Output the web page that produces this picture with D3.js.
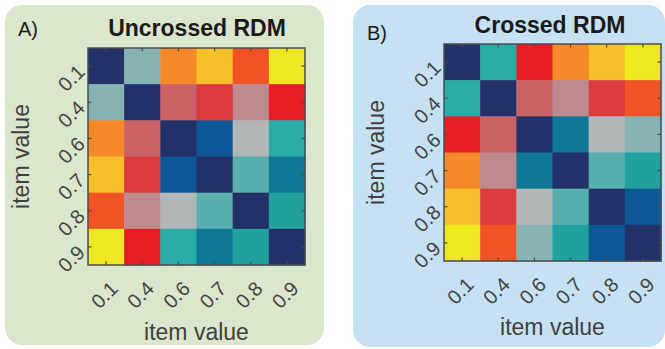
<!DOCTYPE html>
<html>
<head>
<meta charset="utf-8">
<script src="https://cdn.jsdelivr.net/npm/d3@7"></script>
<style>
  body { margin: 0; background: #fff; }
  svg { display: block; font-family: "Liberation Sans", Arial, sans-serif; }
</style>
</head>
<body>
<div id="chart"></div>
<script>
// item values on both axes
const items = ["0.1", "0.4", "0.6", "0.7", "0.8", "0.9"];

// dissimilarity rank -> colour (low = dark blue, high = yellow)
const palette = [
  "#233169", "#0c5796", "#0f7897", "#22a09f", "#2aaca8", "#57b0ad",
  "#87b3b5", "#b3b6b6", "#bf8a8d", "#cb6366", "#db3b3e", "#e81e26",
  "#f15326", "#f5892a", "#f7c02b", "#ede821"
];

// dissimilarity ranks
const uncrossed = [
  [0, 6, 13, 14, 12, 15],
  [6, 0, 9, 10, 8, 11],
  [13, 9, 0, 1, 7, 4],
  [14, 10, 1, 0, 5, 2],
  [12, 8, 7, 5, 0, 3],
  [15, 11, 4, 2, 3, 0]
];
const crossed = [
  [0, 4, 11, 13, 14, 15],
  [4, 0, 9, 8, 10, 12],
  [11, 9, 0, 2, 7, 6],
  [13, 8, 2, 0, 5, 3],
  [14, 10, 7, 5, 0, 1],
  [15, 12, 6, 3, 1, 0]
];

const panels = [
  { letter: "A)", title: "Uncrossed RDM", matrix: uncrossed, bg: "#dae7cd",
    box: { x: 5, y: 5, w: 319, h: 340 }, mx: 88, my: 48, size: 217,
    letterPos: [18, 36], titleX: 197, titleY: 36, ylabX: 29, xlabY: 340 },
  { letter: "B)", title: "Crossed RDM", matrix: crossed, bg: "#c5e1f3",
    box: { x: 353, y: 5, w: 312, h: 342 }, mx: 444, my: 44, size: 217,
    letterPos: [367, 40], titleX: 550, titleY: 33, ylabX: 384, xlabY: 335 }
];

const W = 665, H = 349;
const color = d3.scaleOrdinal(d3.range(palette.length), palette);

const svg = d3.select("#chart").append("svg")
  .attr("width", W).attr("height", H);

panels.forEach(p => {
  const g = svg.append("g");

  g.append("rect")
    .attr("x", p.box.x).attr("y", p.box.y)
    .attr("width", p.box.w).attr("height", p.box.h)
    .attr("rx", 17).attr("ry", 17)
    .attr("fill", p.bg);

  g.append("text")
    .attr("x", p.letterPos[0]).attr("y", p.letterPos[1])
    .attr("font-size", 20).attr("fill", "#1a1a1a")
    .text(p.letter);

  g.append("text")
    .attr("x", p.titleX).attr("y", p.titleY)
    .attr("text-anchor", "middle")
    .attr("font-size", 23).attr("font-weight", "bold").attr("fill", "#1a1a1a")
    .text(p.title);

  const x = d3.scaleBand().domain(items).range([p.mx, p.mx + p.size]);
  const y = d3.scaleBand().domain(items).range([p.my, p.my + p.size]);

  const cells = [];
  p.matrix.forEach((row, i) => row.forEach((v, j) => cells.push({ r: items[i], c: items[j], v })));

  g.selectAll("rect.cell")
    .data(cells)
    .join("rect")
    .attr("class", "cell")
    .attr("x", d => x(d.c))
    .attr("y", d => y(d.r))
    .attr("width", x.bandwidth() + 0.5)
    .attr("height", y.bandwidth() + 0.5)
    .attr("fill", d => color(d.v));

  const x0 = p.mx, x1 = p.mx + p.size, y0 = p.my, y1 = p.my + p.size;
  const tick = 3.5;

  // inward ticks on all four sides
  const tickLines = [];
  items.forEach(k => {
    const cx = x(k) + x.bandwidth() / 2;
    const cy = y(k) + y.bandwidth() / 2;
    tickLines.push([cx, y0, cx, y0 + tick], [cx, y1, cx, y1 - tick],
                   [x0, cy, x0 + tick, cy], [x1, cy, x1 - tick, cy]);
  });
  g.selectAll("line.tick")
    .data(tickLines)
    .join("line")
    .attr("x1", d => d[0]).attr("y1", d => d[1])
    .attr("x2", d => d[2]).attr("y2", d => d[3])
    .attr("stroke", "#4a4a4a").attr("stroke-width", 1.2);

  g.append("rect")
    .attr("x", x0).attr("y", y0)
    .attr("width", p.size).attr("height", p.size)
    .attr("fill", "none")
    .attr("stroke", "#4d4d4d").attr("stroke-width", 1.5);

  // rotated tick labels
  g.selectAll("text.ylab")
    .data(items)
    .join("text")
    .attr("text-anchor", "end")
    .attr("font-size", 20).attr("fill", "#454545")
    .attr("transform", d => `translate(${x0 - 2}, ${y(d) + y.bandwidth() / 2 + 7}) rotate(-45)`)
    .text(d => d);

  g.selectAll("text.xlab")
    .data(items)
    .join("text")
    .attr("text-anchor", "end")
    .attr("font-size", 20).attr("fill", "#454545")
    .attr("transform", d => `translate(${x(d) + x.bandwidth() / 2 + 13}, ${y1 + 25}) rotate(-45)`)
    .text(d => d);

  g.append("text")
    .attr("x", (x0 + x1) / 2).attr("y", p.xlabY)
    .attr("text-anchor", "middle")
    .attr("font-size", 23).attr("fill", "#404040")
    .text("item value");

  g.append("text")
    .attr("transform", `translate(${p.ylabX}, ${(y0 + y1) / 2}) rotate(-90)`)
    .attr("text-anchor", "middle")
    .attr("font-size", 23).attr("fill", "#404040")
    .text("item value");
});
</script>
</body>
</html>
